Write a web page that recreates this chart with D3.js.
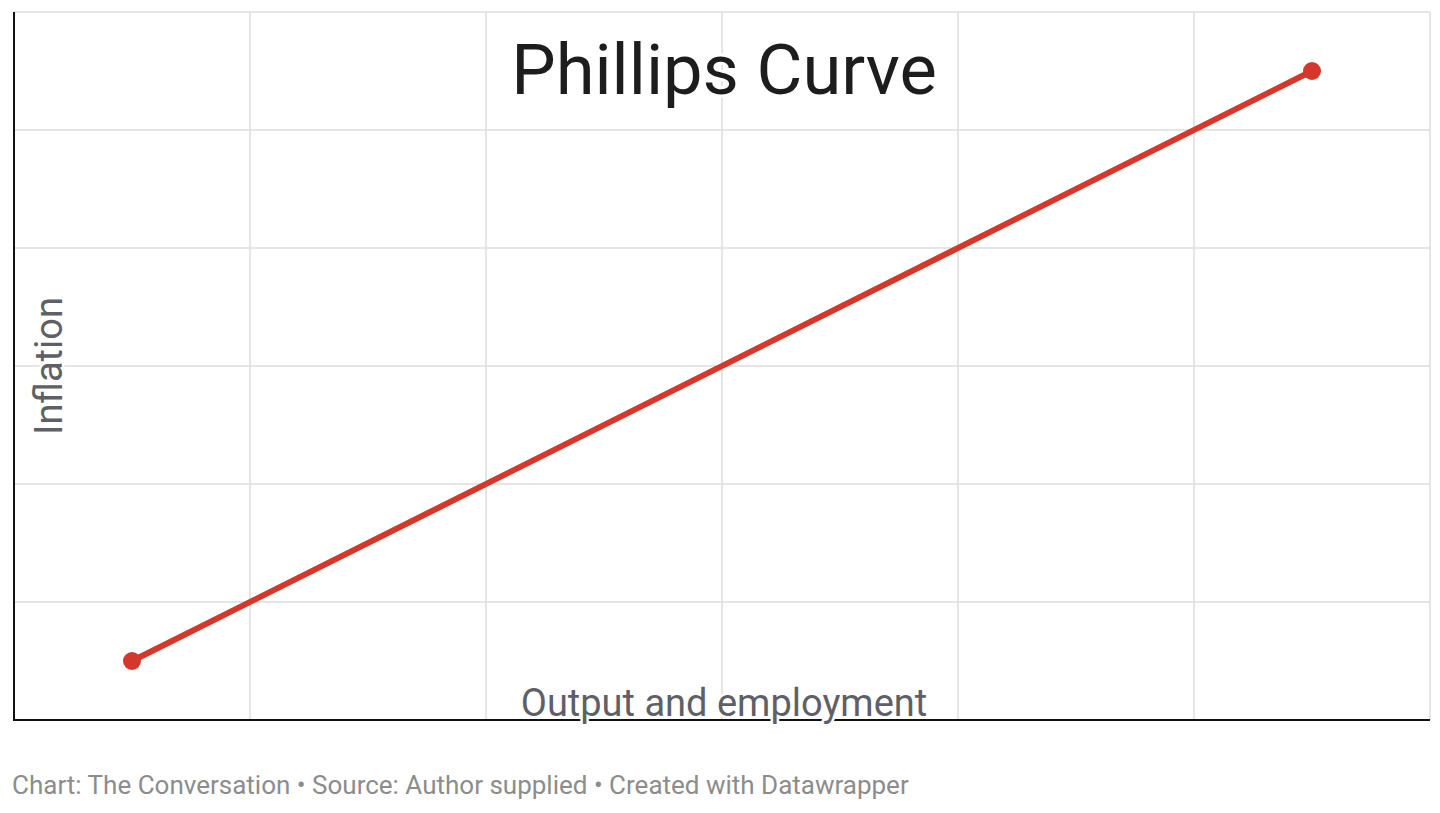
<!DOCTYPE html>
<html><head><meta charset="utf-8">
<script src="https://cdn.jsdelivr.net/npm/d3@7"></script>
<style>
html,body{margin:0;padding:0;background:#fff;}
svg{display:block;font-family:Roboto,"Noto Sans",sans-serif;}
</style></head>
<body><svg id="c" width="1440" height="813"></svg>
<script>
const title = "Phillips Curve";
const xLabel = "Output and employment";
const yLabel = "Inflation";
const footer = "Chart: The Conversation • Source: Author supplied • Created with Datawrapper";
const xTicks = [0, 1, 2, 3, 4, 5, 6];
const yTicks = [0, 1, 2, 3, 4, 5, 6];
const outputValues = [0.5, 5.5];
const inflationValues = [0.5, 5.5];

const svg = d3.select("#c");
const m = {left: 14, right: 10, top: 12, bottom: 93};
const W = 1440, H = 813;
const x = d3.scaleLinear().domain([0, 6]).range([m.left, W - m.right]);
const y = d3.scaleLinear().domain([0, 6]).range([H - m.bottom, m.top]);

const grid = "#e5e5e5";
svg.append("g").selectAll("line").data(xTicks.slice(1)).join("line")
  .attr("x1", d => x(d)).attr("x2", d => x(d)).attr("y1", y(6)).attr("y2", y(0))
  .attr("stroke", grid).attr("stroke-width", 2);
svg.append("g").selectAll("line").data(yTicks.slice(1)).join("line")
  .attr("x1", x(0)).attr("x2", x(6)).attr("y1", d => y(d)).attr("y2", d => y(d))
  .attr("stroke", grid).attr("stroke-width", 2);

// axes lines
svg.append("line").attr("x1", x(0)).attr("x2", x(0)).attr("y1", y(6)).attr("y2", y(0) + 1)
  .attr("stroke", "#111").attr("stroke-width", 2);
svg.append("line").attr("x1", x(0)).attr("x2", x(6)).attr("y1", y(0)).attr("y2", y(0))
  .attr("stroke", "#111").attr("stroke-width", 2);

const pts = outputValues.map((v, i) => ({x: v, y: inflationValues[i]}));
const red = "#d6372b";
svg.append("path").datum(pts)
  .attr("d", d3.line().x(d => x(d.x)).y(d => y(d.y)))
  .attr("fill", "none").attr("stroke", red).attr("stroke-width", 6).attr("stroke-linecap", "round");
svg.append("g").selectAll("circle").data(pts).join("circle")
  .attr("cx", d => x(d.x)).attr("cy", d => y(d.y)).attr("r", 9).attr("fill", red);

function halo(sel, w) {
  sel.attr("stroke", "#fff").attr("stroke-width", w).attr("stroke-linejoin", "round")
    .attr("paint-order", "stroke");
}

svg.append("text").attr("x", 724).attr("y", 94).attr("text-anchor", "middle")
  .attr("font-size", 70.5).attr("fill", "#1d1d1d").text(title).call(halo, 6);

svg.append("text").attr("x", 724).attr("y", 716).attr("text-anchor", "middle")
  .attr("font-size", 38).attr("fill", "#5f5f66").text(xLabel).call(halo, 5);

svg.append("text").attr("transform", `translate(62,${y(3)}) rotate(-90)`).attr("text-anchor", "middle")
  .attr("font-size", 38).attr("fill", "#5f5f66").text(yLabel).call(halo, 5);

svg.append("text").attr("x", 12).attr("y", 794)
  .attr("font-size", 26).attr("fill", "#8c8c8c").text(footer);
</script></body></html>
